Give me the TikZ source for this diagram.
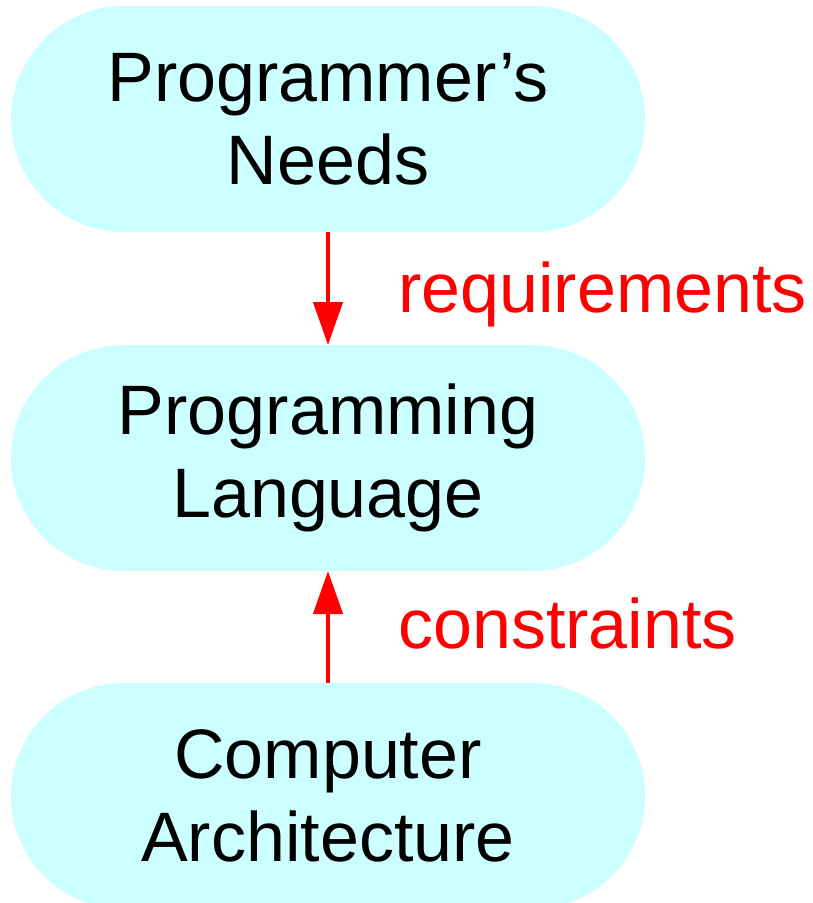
\documentclass[tikz,border=0pt]{standalone}
\usepackage{fontspec}
\setmainfont{Liberation Sans}
\usetikzlibrary{arrows.meta}
\definecolor{boxfill}{HTML}{CCFFFF}
\tikzset{
  layerbox/.style={rectangle, fill=boxfill, draw=none, rounded corners=113pt,
    minimum width=634pt, minimum height=226pt, inner sep=0pt, outer sep=0pt,
    align=center, font=\fontsize{70}{83}\selectfont},
  flowarrow/.style={draw=red, line width=4.5pt,
    -{Triangle[length=43pt,width=29pt]}},
  flowlabel/.style={text=red, anchor=base west, inner sep=0pt,
    font=\fontsize{70}{83}\selectfont}
}
\begin{document}
\begin{tikzpicture}[x=1pt,y=1pt]
  \useasboundingbox (0,0) rectangle (812,-903);
  \begin{scope}
    \clip (0,0) rectangle (812,-903);
    \node[layerbox] (needs) at (328,-119) {Programmer’s\\Needs};
    \node[layerbox] (lang)  at (328,-458) {Programming\\Language};
    \node[layerbox] (arch)  at (328,-796) {Computer\\Architecture};
  \end{scope}
  \draw[flowarrow] (needs) -- (lang);
  \draw[flowarrow] (arch) -- (lang);
  \node[flowlabel] (req) at (398,-312) {requirements};
  \node[flowlabel] (con) at (398,-648) {constraints};
\end{tikzpicture}
\end{document}
